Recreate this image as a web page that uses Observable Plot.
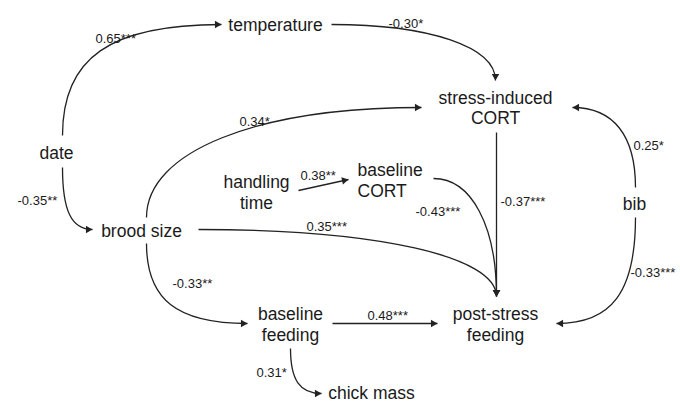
<!DOCTYPE html>
<html><head><meta charset="utf-8">
<script src="https://cdn.jsdelivr.net/npm/d3@7"></script>
<script src="https://cdn.jsdelivr.net/npm/@observablehq/plot@0.6"></script>
<style>body{margin:0;background:#fff}</style>
</head><body><div id="chart"></div>
<script>
// Nodes of the path diagram (layout coordinates)
const nodeNames = ["temperature","stress-induced\nCORT","date","handling\ntime","baseline\nCORT","bib","brood size","baseline\nfeeding","post-stress\nfeeding","chick mass"];
const nodeX = [275, 495, 56, 256, 357, 634, 141, 290, 495, 371];
const nodeY = [24, 107, 152, 191.5, 179.5, 203, 230, 323.5, 323.5, 392];
const nodeAlign = ["middle","middle","middle","middle","start","middle","middle","middle","middle","middle"];

// Paths (coefficients) and their endpoints
const edgeLabels = ["0.65***","-0.30*","0.34*","0.38**","-0.43***","-0.37***","0.35***","0.25*","-0.33***","-0.35**","-0.33**","0.48***","0.31*"];
const edgeShape = ["vh","hv","vh","line","hv","line","hv","vh","vh","vh","vh","line","vh"];
const edgeBend = [0.7, 0.6, 0.6, 0, 0.6, 0, 0.6, 0.65, 0.7, 0.7, 0.7, 0, 0.7];
const edgeX1 = [62, 331, 146, 298, 433, 496, 198, 635, 635, 62, 146, 332, 290];
const edgeY1 = [135, 24, 217, 190, 178, 132, 229, 187, 217, 167, 243, 323, 348];
const edgeX2 = [221, 495, 421, 348, 496, 496, 496, 572, 556, 92, 247, 437, 321];
const edgeY2 = [24, 80, 107, 179, 296, 296, 296, 107, 323, 229, 323, 323, 393];
const labelX = [95, 388, 239, 300, 415, 500, 306, 633, 630, 17, 172, 367, 256];
const labelY = [38, 23, 121, 175, 211, 201, 226, 145, 272, 200, 283, 315, 372];

const nodes = nodeNames.map((name, i) => ({name, x: nodeX[i], y: nodeY[i], align: nodeAlign[i]}));
const edges = edgeLabels.map((label, i) => ({
  label, shape: edgeShape[i], bend: edgeBend[i],
  x1: edgeX1[i], y1: edgeY1[i], x2: edgeX2[i], y2: edgeY2[i],
  lx: labelX[i], ly: labelY[i]
}));

function bezier(shape, k) {
  if (shape === "line") return "linear";
  return (context) => {
    let pts = [];
    return {
      areaStart() {}, areaEnd() {},
      lineStart() { pts = []; },
      point(x, y) { pts.push([+x, +y]); },
      lineEnd() {
        const a = pts[0], b = pts[pts.length - 1];
        context.moveTo(a[0], a[1]);
        if (shape === "vh") {
          context.bezierCurveTo(a[0], a[1] + k * (b[1] - a[1]), b[0] - k * (b[0] - a[0]), b[1], b[0], b[1]);
        } else {
          context.bezierCurveTo(a[0] + k * (b[0] - a[0]), a[1], b[0], b[1] - k * (b[1] - a[1]), b[0], b[1]);
        }
      }
    };
  };
}

const headR = 2.8;
const headOff = 2 * Math.sqrt(Math.PI * headR * headR / (3 * Math.sqrt(3)));
const heads = edges.map(e => {
  let dx, dy;
  if (e.shape === "vh") { dx = Math.sign(e.x2 - e.x1); dy = 0; }
  else if (e.shape === "hv") { dx = 0; dy = Math.sign(e.y2 - e.y1); }
  else { const L = Math.hypot(e.x2 - e.x1, e.y2 - e.y1); dx = (e.x2 - e.x1) / L; dy = (e.y2 - e.y1) / L; }
  return {x: e.x2 - dx * headOff, y: e.y2 - dy * headOff, angle: Math.atan2(dx, -dy) * 180 / Math.PI};
});

const stroke = "#222";
const font = "Arial, 'Liberation Sans', sans-serif";

const chart = Plot.plot({
  width: 680, height: 403, margin: 0,
  x: {domain: [0, 680], axis: null},
  y: {domain: [0, 403], reverse: true, axis: null},
  style: {fontFamily: font, background: "white", color: "#1a1a1a"},
  marks: [
    ...edges.map(e => Plot.link([e], {x1: "x1", y1: "y1", x2: "x2", y2: "y2", curve: bezier(e.shape, e.bend), stroke, strokeWidth: 1.3})),
    Plot.dot(heads, {x: "x", y: "y", rotate: "angle", symbol: "triangle", r: headR, fill: stroke, stroke: "none"}),
    Plot.text(nodes.filter(d => d.align === "middle"), {x: "x", y: "y", text: "name", fontSize: 17.5, lineHeight: 1.18, textAnchor: "middle", fill: "#1a1a1a"}),
    Plot.text(nodes.filter(d => d.align === "start"), {x: "x", y: "y", text: "name", fontSize: 17.5, lineHeight: 1.18, textAnchor: "start", fill: "#1a1a1a"}),
    Plot.text(edges, {x: "lx", y: "ly", text: "label", fontSize: 13, textAnchor: "start", fill: "#1a1a1a"})
  ]
});
document.getElementById("chart").append(chart);
</script>
</body></html>
